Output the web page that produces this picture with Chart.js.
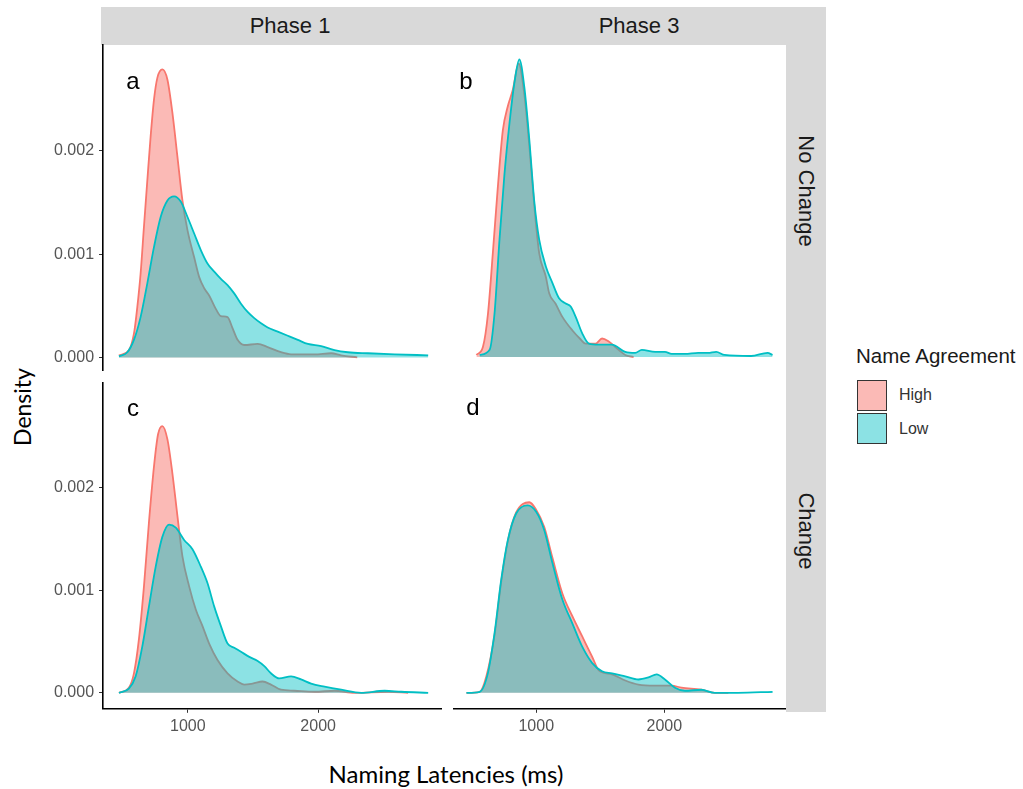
<!DOCTYPE html>
<html>
<head>
<meta charset="utf-8">
<script src="https://cdn.jsdelivr.net/npm/chart.js@4.4.1/dist/chart.umd.min.js"></script>
<style>
  html, body { margin: 0; padding: 0; background: #fff; }
  #wrap { position: relative; width: 1023px; height: 789px; overflow: hidden; background: #fff; font-family: "Liberation Sans", Arial, sans-serif; }
  canvas { position: absolute; }
  .strip { position: absolute; background: #D9D9D9; }
  .t { position: absolute; white-space: nowrap; transform: translate(-50%, -50%); }
</style>
</head>
<body>
<div id="wrap">
  <div class="strip" style="left:101px;top:7px;width:725px;height:38px;"></div>
  <div class="strip" style="left:786px;top:7px;width:40px;height:705px;"></div>
  <div class="t" style="left:290px;top:26px;font-size:22px;color:#1a1a1a;">Phase 1</div>
  <div class="t" style="left:639px;top:26px;font-size:22px;color:#1a1a1a;">Phase 3</div>
  <div class="t" style="left:806px;top:191px;font-size:22px;color:#1a1a1a;transform:translate(-50%,-50%) rotate(90deg);">No Change</div>
  <div class="t" style="left:806px;top:531px;font-size:22px;color:#1a1a1a;transform:translate(-50%,-50%) rotate(90deg);">Change</div>

  <canvas id="pa"></canvas>
  <canvas id="pb"></canvas>
  <canvas id="pc"></canvas>
  <canvas id="pd"></canvas>

  <div class="t" style="left:133px;top:81px;font-size:24px;color:#000;">a</div>
  <div class="t" style="left:466px;top:81px;font-size:24px;color:#000;">b</div>
  <div class="t" style="left:133px;top:408px;font-size:24px;color:#000;">c</div>
  <div class="t" style="left:473px;top:407px;font-size:24px;color:#000;">d</div>

  <div class="t" style="left:22px;top:407px;font-size:23px;color:#000;font-family:Lato,'Liberation Sans',sans-serif;transform:translate(-50%,-50%) rotate(-90deg);">Density</div>
  <div class="t" style="left:446px;top:773px;font-size:24px;color:#000;font-family:Lato,'Liberation Sans',sans-serif;">Naming Latencies (ms)</div>

  <div style="position:absolute;left:856px;top:344px;font-size:20.5px;color:#1a1a1a;">Name Agreement</div>
  <div style="position:absolute;left:857px;top:380px;width:28px;height:29px;border:1.5px solid #333;background:rgba(248,118,109,0.5);"></div>
  <div style="position:absolute;left:857px;top:413px;width:28px;height:29px;border:1.5px solid #333;background:rgba(0,191,196,0.45);"></div>
  <div style="position:absolute;left:899px;top:386px;font-size:16px;color:#333;">High</div>
  <div style="position:absolute;left:899px;top:420px;font-size:16px;color:#333;">Low</div>
</div>
<script>
// Tick values
const xTicks = [1000, 2000];
const yTicks = [0, 0.001, 0.002];

// Panel a: Phase 1, No Change
const aHighX = [472,548,587,613,638,664,690,715,741,767,805,844,882,921,959,998,1049,1087,1126,1164,1215,1254,1305,1344,1382,1433,1536,1613,1715,1792,1972,2100,2177,2300];
const aHighY = [0.00002,0.00007,0.00023,0.00049,0.00081,0.00127,0.00172,0.00214,0.00250,0.00271,0.00279,0.00269,0.00237,0.00194,0.00152,0.00123,0.00097,0.00078,0.00067,0.00060,0.00047,0.00040,0.00039,0.00028,0.00017,0.00012,0.00013,0.00010,0.00005,0.00003,0.00003,0.00004,0.00002,0.00000];
const aLowX = [472,536,587,638,690,741,792,844,895,946,998,1049,1100,1151,1203,1254,1305,1356,1408,1459,1510,1562,1613,1690,1767,1844,1921,2023,2126,2228,2382,2587,2844];
const aLowY = [0.00001,0.00005,0.00017,0.00039,0.00072,0.00107,0.00136,0.00152,0.00156,0.00151,0.00136,0.00120,0.00104,0.00091,0.00083,0.00076,0.00070,0.00062,0.00052,0.00044,0.00038,0.00033,0.00029,0.00025,0.00021,0.00017,0.00013,0.00011,0.00007,0.00005,0.00004,0.00003,0.00002];

// Panel b: Phase 3, No Change
const bHighX = [533,584,623,661,700,739,777,816,863,907,946,984,1023,1075,1101,1150,1204,1281,1340,1385,1463,1514,1566,1643,1695,1760];
const bHighY = [0.00002,0.00010,0.00042,0.00101,0.00165,0.00220,0.00243,0.00259,0.00285,0.00255,0.00205,0.00148,0.00101,0.00078,0.00062,0.00052,0.00039,0.00026,0.00018,0.00013,0.00013,0.00018,0.00015,0.00007,0.00002,0.00000];
const bLowX = [558,636,674,713,752,791,829,868,907,946,984,1023,1075,1126,1178,1230,1269,1308,1359,1411,1488,1591,1695,1773,1824,1928,2005,2057,2160,2264,2341,2405,2470,2677,2806,2845];
const bLowY = [0.00002,0.00007,0.00042,0.00114,0.00178,0.00227,0.00266,0.00289,0.00262,0.00211,0.00152,0.00114,0.00088,0.00072,0.00057,0.00052,0.00049,0.00039,0.00023,0.00013,0.00012,0.00012,0.00005,0.00004,0.00007,0.00005,0.00005,0.00003,0.00003,0.00004,0.00004,0.00005,0.00002,0.00001,0.00004,0.00002];

// Panel c: Phase 1, Change
const cHighX = [472,548,587,625,664,702,741,772,805,844,882,921,959,1010,1062,1113,1164,1228,1305,1382,1433,1497,1574,1638,1715,1818,1972,2126,2279,2536,2690];
const cHighY = [0.00000,0.00005,0.00019,0.00052,0.00104,0.00166,0.00221,0.00252,0.00260,0.00247,0.00214,0.00172,0.00133,0.00104,0.00081,0.00065,0.00048,0.00032,0.00019,0.00011,0.00008,0.00009,0.00011,0.00008,0.00003,0.00002,0.00001,0.00002,0.00000,0.00001,0.00000];
const cLowX = [472,548,600,651,702,754,805,856,908,972,1036,1100,1151,1203,1254,1305,1356,1408,1472,1536,1587,1638,1702,1792,1869,1946,2049,2177,2331,2510,2638,2844];
const cLowY = [0.00000,0.00004,0.00016,0.00045,0.00084,0.00123,0.00152,0.00164,0.00161,0.00149,0.00140,0.00123,0.00107,0.00084,0.00065,0.00048,0.00044,0.00040,0.00035,0.00031,0.00026,0.00019,0.00014,0.00016,0.00013,0.00009,0.00006,0.00003,0.00000,0.00002,0.00001,0.00000];

// Panel d: Phase 3, Change
const dHighX = [455,558,610,674,726,778,843,946,998,1062,1126,1204,1281,1359,1437,1488,1592,1695,1798,1927,2057,2134,2289,2393,2500];
const dHighY = [0.00000,0.00001,0.00016,0.00056,0.00108,0.00148,0.00176,0.00186,0.00179,0.00162,0.00132,0.00097,0.00075,0.00055,0.00035,0.00022,0.00018,0.00012,0.00008,0.00007,0.00007,0.00005,0.00003,0.00000,0.00000];
const dLowX = [455,558,622,674,726,778,843,933,998,1062,1126,1204,1281,1359,1437,1514,1592,1695,1798,1876,1940,2005,2083,2160,2289,2393,2574,2845];
const dLowY = [0.00000,0.00001,0.00019,0.00058,0.00110,0.00149,0.00175,0.00183,0.00177,0.00159,0.00127,0.00091,0.00068,0.00045,0.00029,0.00021,0.00019,0.00016,0.00013,0.00015,0.00018,0.00013,0.00005,0.00002,0.00003,0.00000,0.00000,0.00001];

const RED = '#F8766D', TEAL = '#00BFC4';
const tickFont = { family: "'Liberation Sans', Arial, sans-serif", size: 16 };

function pts(xs, ys) { return xs.map((x, i) => ({ x: x, y: ys[i] })); }

function config(hx, hy, lx, ly, showX, showY, ymin, ymax) {
  return {
    type: 'line',
    data: {
      datasets: [
        { label: 'High', data: pts(hx, hy), order: 1, borderColor: RED, backgroundColor: 'rgba(248,118,109,0.5)', borderWidth: 1.8, fill: 'origin', pointRadius: 0, cubicInterpolationMode: 'monotone' },
        { label: 'Low', data: pts(lx, ly), order: 0, borderColor: TEAL, backgroundColor: 'rgba(0,191,196,0.45)', borderWidth: 1.8, fill: 'origin', pointRadius: 0, cubicInterpolationMode: 'monotone' }
      ]
    },
    options: {
      responsive: false, maintainAspectRatio: false, animation: false,
      layout: { padding: 0 },
      plugins: { legend: { display: false }, tooltip: { enabled: false } },
      scales: {
        x: {
          type: 'linear', min: 350, max: 2950, display: showX,
          afterBuildTicks: s => { s.ticks = xTicks.map(v => ({ value: v })); },
          ticks: { font: tickFont, color: '#555', padding: 4, maxRotation: 0, callback: v => String(v) },
          grid: { display: true, drawOnChartArea: false, drawTicks: true, tickLength: 4, color: '#333', lineWidth: 1 },
          border: { display: true, color: '#000', width: 1.6 }
        },
        y: {
          type: 'linear', min: ymin, max: ymax, display: showY,
          afterBuildTicks: s => { s.ticks = yTicks.map(v => ({ value: v })); },
          ticks: { font: tickFont, color: '#555', padding: 5, callback: v => Number(v).toFixed(3) },
          grid: { display: true, drawOnChartArea: false, drawTicks: true, tickLength: 4, color: '#333', lineWidth: 1 },
          border: { display: true, color: '#000', width: 1.6 }
        }
      }
    }
  };
}

// Place a chart so that its plot area lands on the given panel rectangle.
function panel(id, box, mk) {
  const cv = document.getElementById(id);
  let pad = { l: 0, t: 0, r: 0, b: 0 }, chart = null;
  for (let it = 0; it < 4; it++) {
    if (chart) chart.destroy();
    const w = Math.round(box.x1 - box.x0 + pad.l + pad.r), h = Math.round(box.y1 - box.y0 + pad.t + pad.b);
    cv.width = w; cv.height = h;
    cv.style.width = w + 'px'; cv.style.height = h + 'px';
    cv.style.left = Math.round(box.x0 - pad.l) + 'px';
    cv.style.top = Math.round(box.y0 - pad.t) + 'px';
    chart = new Chart(cv, mk());
    const ca = chart.chartArea;
    const np = { l: Math.round(ca.left), t: Math.round(ca.top), r: Math.round(w - ca.right), b: Math.round(h - ca.bottom) };
    if (np.l === pad.l && np.t === pad.t && np.r === pad.r && np.b === pad.b) break;
    pad = np;
  }
  return chart;
}

panel('pa', { x0: 103, y0: 45, x1: 442, y1: 370 }, () => config(aHighX, aHighY, aLowX, aLowY, false, true, -0.000126, 0.00303));
panel('pb', { x0: 453, y0: 45, x1: 786, y1: 370 }, () => config(bHighX, bHighY, bLowX, bLowY, false, false, -0.000126, 0.00303));
panel('pc', { x0: 103, y0: 383, x1: 442, y1: 709 }, () => config(cHighX, cHighY, cLowX, cLowY, true, true, -0.000156, 0.003024));
panel('pd', { x0: 453, y0: 383, x1: 786, y1: 709 }, () => config(dHighX, dHighY, dLowX, dLowY, true, false, -0.000156, 0.003024));
</script>
</body>
</html>
